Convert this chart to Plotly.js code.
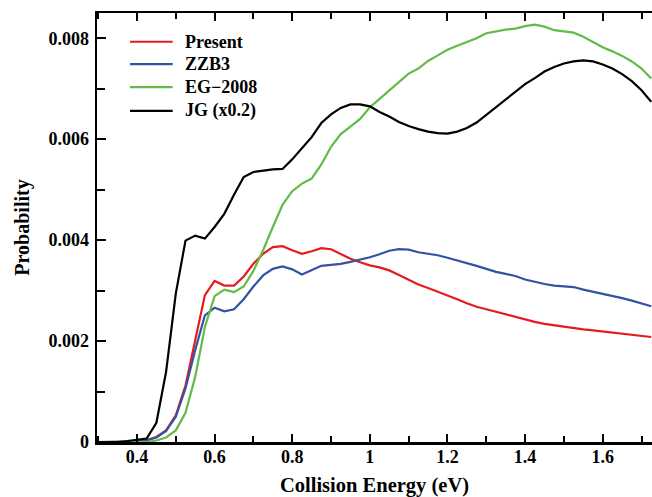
<!DOCTYPE html>
<html>
<head>
<meta charset="utf-8">
<script src="https://cdn.plot.ly/plotly-3.0.1.min.js"></script>
<style>html,body{margin:0;padding:0;background:#fff;overflow:hidden;}#chart{width:652px;height:497px;}</style>
</head>
<body>
<div id="chart"></div>
<script>
// Collision energy (eV)
const energy = [0.3,0.325,0.35,0.375,0.4,0.425,0.45,0.475,0.5,0.525,0.55,0.575,0.6,0.625,0.65,0.675,0.7,0.725,0.75,0.775,0.8,0.825,0.85,0.875,0.9,0.925,0.95,0.975,1.0,1.025,1.05,1.075,1.1,1.125,1.15,1.175,1.2,1.225,1.25,1.275,1.3,1.325,1.35,1.375,1.4,1.425,1.45,1.475,1.5,1.525,1.55,1.575,1.6,1.625,1.65,1.675,1.7,1.725];

const present = [0,0,0,0,0.00001,0.00004,0.0001,0.00023,0.00053,0.00112,0.00201,0.00291,0.00319,0.0031,0.0031,0.00328,0.00353,0.00373,0.00386,0.00388,0.0038,0.00373,0.00378,0.00384,0.00382,0.00373,0.00363,0.00356,0.0035,0.00346,0.0034,0.00331,0.00321,0.00312,0.00305,0.00298,0.0029,0.00283,0.00275,0.00268,0.00263,0.00258,0.00252,0.00247,0.00242,0.00238,0.00234,0.00231,0.00228,0.00225,0.00223,0.00221,0.00219,0.00217,0.00215,0.00213,0.0021,0.00208];

const zzb3 = [0,0,0,0,0.00001,0.00003,0.00009,0.00022,0.0005,0.00106,0.00182,0.00251,0.00266,0.00259,0.00263,0.00283,0.00308,0.0033,0.00343,0.00348,0.00342,0.00332,0.0034,0.00349,0.00351,0.00353,0.00357,0.00361,0.00366,0.00372,0.00379,0.00382,0.00381,0.00376,0.00373,0.0037,0.00365,0.0036,0.00355,0.00349,0.00343,0.00337,0.00333,0.00329,0.00322,0.00317,0.00313,0.0031,0.00308,0.00307,0.00302,0.00298,0.00294,0.0029,0.00285,0.0028,0.00275,0.00269];

const eg2008 = [0,0,0,0,0,0,0.00003,0.00009,0.00023,0.00058,0.00129,0.00228,0.00289,0.00302,0.00297,0.00308,0.00339,0.0038,0.00426,0.0047,0.00497,0.00512,0.00522,0.0055,0.00585,0.0061,0.00625,0.0064,0.00663,0.0068,0.00697,0.00715,0.0073,0.0074,0.00755,0.00766,0.00777,0.00785,0.00792,0.008,0.0081,0.00814,0.00817,0.00819,0.00824,0.00827,0.00823,0.00816,0.00814,0.00811,0.00803,0.00793,0.00782,0.00774,0.00765,0.00754,0.0074,0.0072];

const jg = [0,0,0,0.00002,0.00005,0.00007,0.00038,0.00139,0.00294,0.00399,0.00409,0.00403,0.00426,0.00452,0.0049,0.00525,0.00535,0.00538,0.0054,0.00541,0.0056,0.00582,0.00604,0.00632,0.00649,0.00662,0.00669,0.00669,0.00665,0.00654,0.00645,0.00634,0.00626,0.0062,0.00615,0.00612,0.00611,0.00615,0.00622,0.00633,0.00648,0.00663,0.00678,0.00694,0.00709,0.00721,0.00734,0.00743,0.0075,0.00754,0.00756,0.00754,0.00748,0.0074,0.00729,0.00715,0.00697,0.00674];

const seriesNames = ["Present", "ZZB3", "EG\u22122008", "JG (x0.2)"];
const seriesValues = [present, zzb3, eg2008, jg];
const seriesColors = ["#e41b1f", "#3452a4", "#62bb47", "#000000"];

const xTickVals = [0.4, 0.6, 0.8, 1, 1.2, 1.4, 1.6];
const xTickText = ["0.4", "0.6", "0.8", "1", "1.2", "1.4", "1.6"];
const yTickVals = [0, 0.002, 0.004, 0.006, 0.008];
const yTickText = ["0", "0.002", "0.004", "0.006", "0.008"];

const FONT = "Liberation Serif, Times New Roman, serif";

const traces = seriesValues.map((vals, i) => ({
  x: energy, y: vals, type: "scatter", mode: "lines", name: seriesNames[i],
  line: {color: seriesColors[i], width: 2.2}, showlegend: false, hoverinfo: "skip"
}));

// custom legend (lines + labels) in paper coordinates
const legRowY = [0.933, 0.881, 0.827, 0.772];
const shapes = [];
const annotations = [];
seriesNames.forEach((n, i) => {
  shapes.push({type: "line", xref: "paper", yref: "paper", x0: 0.0595, x1: 0.1364, y0: legRowY[i], y1: legRowY[i],
    line: {color: seriesColors[i], width: 2.2}});
  annotations.push({xref: "paper", yref: "paper", x: 0.1544, y: legRowY[i], xanchor: "left", yanchor: "middle",
    text: "<b>" + n + "</b>", showarrow: false, font: {family: FONT, size: 18, color: "#000"}});
});

const layout = {
  width: 652, height: 497,
  margin: {l: 97, r: 0, t: 13, b: 55},
  paper_bgcolor: "#fff", plot_bgcolor: "#fff",
  font: {family: FONT, color: "#000"},
  showlegend: false,
  xaxis: {
    range: [0.297, 1.727], showgrid: false, zeroline: false,
    showline: true, linecolor: "#000", linewidth: 2.5, mirror: "ticks",
    ticks: "inside", ticklen: 8, tickwidth: 2, tickcolor: "#000",
    tickvals: xTickVals, ticktext: xTickText,
    tickfont: {family: FONT, size: 18, weight: "bold", color: "#000"},
    ticklabelstandoff: -3,
    minor: {ticks: "inside", ticklen: 6, tickwidth: 2, tickcolor: "#000", tickvals: [0.3,0.5,0.7,0.9,1.1,1.3,1.5,1.7], showgrid: false},
    title: {text: "<b>Collision Energy (eV)</b>", font: {family: FONT, size: 20.5, color: "#000"}, standoff: 16}
  },
  yaxis: {
    range: [0, 0.0085], showgrid: false, zeroline: false,
    showline: true, linecolor: "#000", linewidth: 2.5, mirror: false,
    ticks: "inside", ticklen: 9, tickwidth: 2, tickcolor: "#000",
    tickvals: yTickVals, ticktext: yTickText,
    tickfont: {family: FONT, size: 18, weight: "bold", color: "#000"},
    ticklabelstandoff: 2,
    minor: {ticks: "inside", ticklen: 8, tickwidth: 2, tickcolor: "#000", tickvals: [0.001,0.003,0.005,0.007], showgrid: false},
    title: {text: "<b>Probability</b>", font: {family: FONT, size: 20, color: "#000"}, standoff: 14}
  },
  shapes: shapes,
  annotations: annotations
};

Plotly.newPlot("chart", traces, layout, {displayModeBar: false, staticPlot: true});
</script>
</body>
</html>
